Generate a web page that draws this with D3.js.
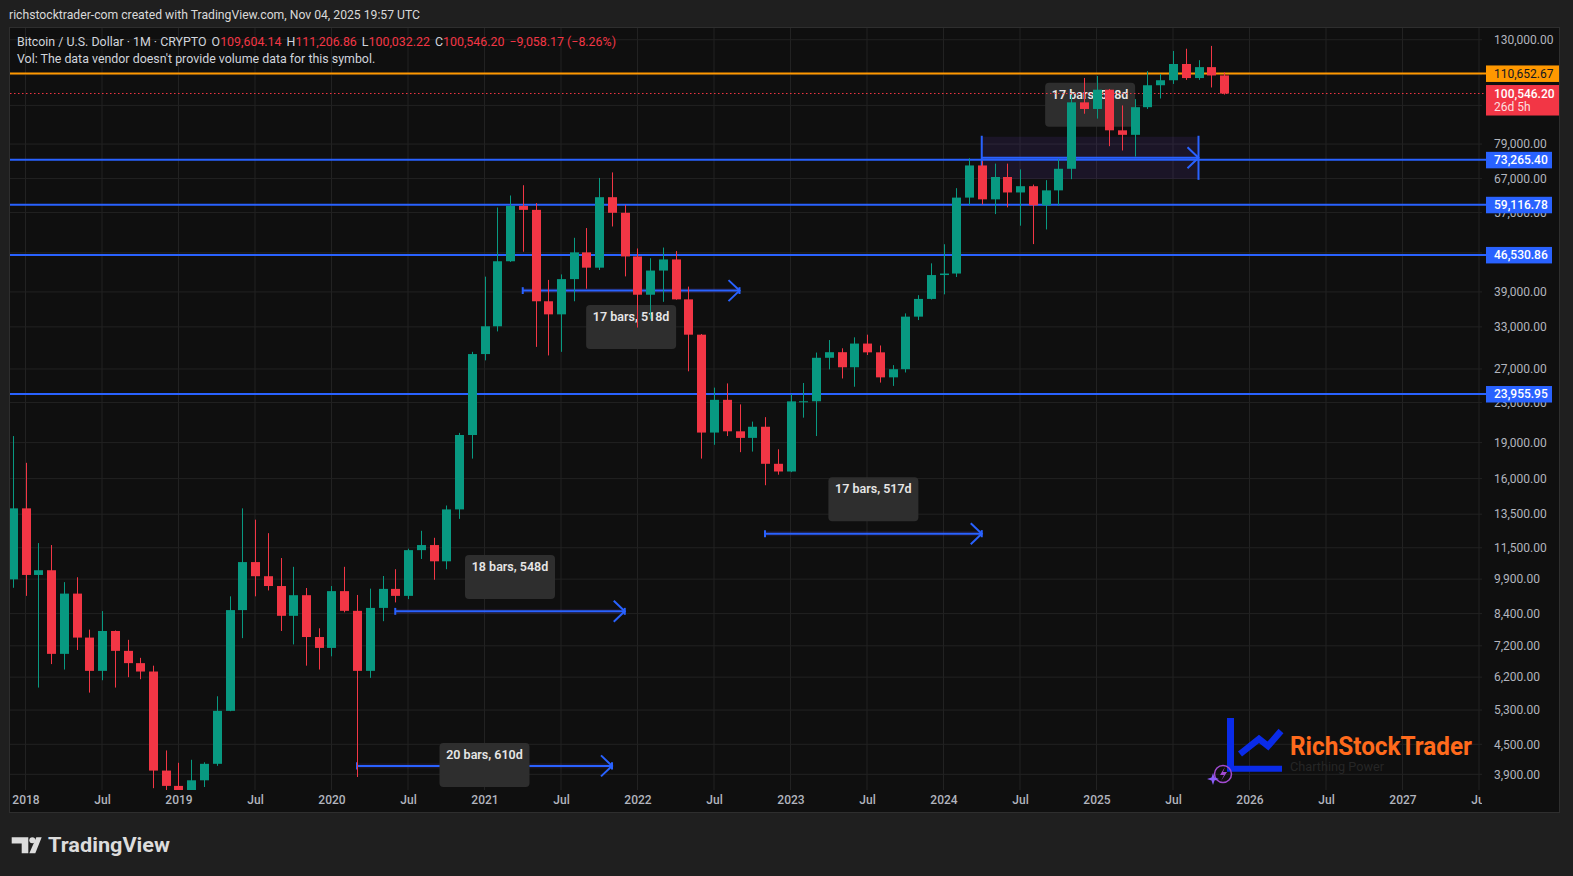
<!DOCTYPE html>
<html lang="en">
<head>
<meta charset="utf-8">
<title>BTCUSD 1M</title>
<script src="https://d3js.org/d3.v7.min.js"></script>
<style>
  body { margin: 0; background: #1f1f1f; }
  svg { display: block; font-family: Roboto, "Noto Sans", sans-serif; }
</style>
</head>
<body>
<svg id="chart" width="1573" height="876"></svg>
<script>
// monthly bars, Dec 2017 .. Nov 2025
var months = [
  "2017-12",
  "2018-01","2018-02","2018-03","2018-04","2018-05","2018-06","2018-07","2018-08","2018-09","2018-10","2018-11","2018-12",
  "2019-01","2019-02","2019-03","2019-04","2019-05","2019-06","2019-07","2019-08","2019-09","2019-10","2019-11","2019-12",
  "2020-01","2020-02","2020-03","2020-04","2020-05","2020-06","2020-07","2020-08","2020-09","2020-10","2020-11","2020-12",
  "2021-01","2021-02","2021-03","2021-04","2021-05","2021-06","2021-07","2021-08","2021-09","2021-10","2021-11","2021-12",
  "2022-01","2022-02","2022-03","2022-04","2022-05","2022-06","2022-07","2022-08","2022-09","2022-10","2022-11","2022-12",
  "2023-01","2023-02","2023-03","2023-04","2023-05","2023-06","2023-07","2023-08","2023-09","2023-10","2023-11","2023-12",
  "2024-01","2024-02","2024-03","2024-04","2024-05","2024-06","2024-07","2024-08","2024-09","2024-10","2024-11","2024-12",
  "2025-01","2025-02","2025-03","2025-04","2025-05","2025-06","2025-07","2025-08","2025-09","2025-10","2025-11"
];
var opens = [
  9890,
  13880,10100,10330,6930,9240,7490,6390,7730,7030,6630,6370,3970,
  3690,3440,3790,4100,5280,8540,10740,10040,9580,8310,9170,7510,
  7130,9350,8510,6390,8630,9450,9140,11370,11650,10780,13810,19700,
  28990,33100,45150,58800,57700,37300,35040,41460,47100,43790,61300,56900,
  46200,38480,43190,45540,37640,31800,19930,23300,20050,19430,20490,17170,
  16550,23130,23140,28480,29250,27220,30480,29230,25940,26970,34660,37720,
  42270,42580,61180,71330,60670,67500,62700,64600,58970,63330,70200,96400,
  93400,102400,84350,82550,94200,104600,107130,115760,108250,114050,109604.14
];
var highs = [
  19600,
  17250,11760,11650,9760,9990,7780,8500,7750,7410,6800,6550,4370,
  4120,4180,4130,5660,9120,13880,13150,12330,10950,10500,9490,7830,
  9580,10500,9180,9460,10050,10380,11450,12470,12060,14070,19900,29300,
  41950,58350,61800,64900,59600,41300,42400,50500,52900,67200,69000,59100,
  47990,45800,48200,47400,40000,31900,24700,25200,22800,21000,21450,18400,
  23950,25250,29200,31000,29800,31400,31800,30200,27500,35200,38400,44700,
  48970,64000,73800,72800,71950,71950,70000,65100,66500,73600,99800,108300,
  109350,102750,95000,97900,111900,110400,123200,124500,117900,126200,111206.86
];
var lows = [
  9500,
  9140,5900,6600,6430,7060,5760,6110,5900,6200,6140,3650,3130,
  3350,3380,3670,4060,5270,7470,9120,9380,7730,7250,6550,6430,
  6850,8450,3850,6180,8100,8860,9000,10900,9870,10380,13200,17600,
  28130,32300,45000,47250,30000,28800,29300,37300,39600,43300,53300,42000,
  32900,34300,37200,37580,26700,17600,18800,19600,18150,18200,15500,16300,
  16500,21400,19600,26950,25800,24800,28860,25300,24900,26550,34100,37600,
  38550,41880,59000,59200,56550,58400,53500,49000,52550,58900,66800,91300,
  89200,78200,76600,74400,93400,98200,105250,107300,107300,103500,100032.22
];
var closes = [
  13880,
  10100,10330,6930,9240,7490,6390,7730,7030,6630,6370,3970,3690,
  3440,3790,4100,5280,8540,10740,10040,9580,8310,9170,7510,7130,
  9350,8510,6390,8630,9450,9140,11370,11650,10780,13810,19700,28990,
  33100,45150,58800,57700,37300,35040,41460,47100,43790,61300,56900,46200,
  38480,43190,45540,37640,31800,19930,23300,20050,19430,20490,17170,16550,
  23130,23140,28480,29250,27220,30480,29230,25940,26970,34660,37720,42270,
  42580,61180,71330,60670,67500,62700,64600,58970,63330,70200,96400,93400,
  102400,84350,82550,94200,104600,107130,115760,108250,114050,109604.37,100546.20
];

// axes
var timeTickMonths = ["2018-01","2018-07","2019-01","2019-07","2020-01","2020-07","2021-01","2021-07",
  "2022-01","2022-07","2023-01","2023-07","2024-01","2024-07","2025-01","2025-07","2026-01","2026-07","2027-01","2027-07"];
var timeTickLabels = ["2018","Jul","2019","Jul","2020","Jul","2021","Jul","2022","Jul","2023","Jul",
  "2024","Jul","2025","Jul","2026","Jul","2027","Jul"];
var priceTicks = [130000,110000,95000,79000,67000,57000,47000,39000,33000,27000,23000,
  19000,16000,13500,11500,9900,8400,7200,6200,5300,4500,3900];
// ticks whose labels sit fully under a price box (grid line only)
var hiddenTickLabels = [110000, 95000, 47000];

// horizontal levels
var levelPrices = [110652.67, 73265.40, 59116.78, 46530.86, 23955.95];
var levelKinds = ["orange", "blue", "blue", "blue", "blue"];

// date ranges
var rangeStart = ["2020-03", "2020-06", "2021-04", "2022-11", "2024-04"];
var rangeEnd   = ["2021-11", "2021-12", "2022-09", "2024-04", "2025-09"];
var rangeHigh  = [4110, 8590, 39700, 12450, 81800];
var rangeLow   = [4010, 8390, 38800, 12150, 66900];
var rangeText  = ["20 bars, 610d", "18 bars, 548d", "17 bars, 518d", "17 bars, 517d", "17 bars, 518d"];
var rangeSide  = ["below", "above", "below", "above", "above"];

var lastPrice = 100546.20;
var countdown = "26d 5h";

// ---- layout
var W = 1573, H = 876;
var plot = { left: 10, right: 1482, top: 28, bottom: 790 };
var GREEN = "#089981", RED = "#f23645", BLUE = "#2962ff", ORANGE = "#ff9800";
var fmt = d3.format(",.2f");

function idx(m) {
  var p = m.split("-");
  return (+p[0] - 2018) * 12 + (+p[1] - 1);
}

var x = d3.scaleLinear().domain([0, 108]).range([25.5, 1402.5]);
var y = d3.scaleLog().domain([3900, 130000]).range([774.3, 39.7]);

var svg = d3.select("#chart");

svg.append("rect").attr("width", W).attr("height", H).attr("fill", "#1f1f1f");
svg.append("rect").attr("x", 9.5).attr("y", 27.5).attr("width", 1550).attr("height", 785)
  .attr("fill", "#0f0f0f").attr("stroke", "#2e2e2e");

var defs = svg.append("defs");
defs.append("clipPath").attr("id", "plotClip").append("rect")
  .attr("x", plot.left).attr("y", plot.top)
  .attr("width", plot.right - plot.left).attr("height", plot.bottom - plot.top);
defs.append("clipPath").attr("id", "timeClip").append("rect")
  .attr("x", plot.left).attr("y", 0)
  .attr("width", plot.right - plot.left).attr("height", 22);

// grid
var grid = svg.append("g").attr("clip-path", "url(#plotClip)");
grid.selectAll("line.v").data(timeTickMonths).enter().append("line")
  .attr("x1", function(d){ return x(idx(d)); }).attr("x2", function(d){ return x(idx(d)); })
  .attr("y1", plot.top).attr("y2", plot.bottom)
  .attr("stroke", "#222222");
grid.selectAll("line.h").data(priceTicks).enter().append("line")
  .attr("x1", plot.left).attr("x2", plot.right)
  .attr("y1", function(d){ return y(d); }).attr("y2", function(d){ return y(d); })
  .attr("stroke", "#222222");

// date ranges
var ranges = rangeStart.map(function(s, i) {
  return { x0: x(idx(s)), x1: x(idx(rangeEnd[i])), yt: y(rangeHigh[i]), yb: y(rangeLow[i]),
           text: rangeText[i], side: rangeSide[i] };
});
var rg = svg.append("g").attr("clip-path", "url(#plotClip)");
ranges.forEach(function(r) {
  var ym = (r.yt + r.yb) / 2;
  rg.append("rect").attr("x", r.x0).attr("y", r.yt).attr("width", r.x1 - r.x0).attr("height", r.yb - r.yt)
    .attr("fill", "rgba(103,58,183,0.15)");
  rg.append("line").attr("x1", r.x0).attr("x2", r.x0).attr("y1", r.yt - 1).attr("y2", r.yb + 1)
    .attr("stroke", BLUE).attr("stroke-width", 2);
  rg.append("line").attr("x1", r.x1).attr("x2", r.x1).attr("y1", r.yt - 1).attr("y2", r.yb + 1)
    .attr("stroke", BLUE).attr("stroke-width", 2);
  rg.append("line").attr("x1", r.x0).attr("x2", r.x1).attr("y1", ym).attr("y2", ym)
    .attr("stroke", BLUE).attr("stroke-width", 2);
  rg.append("polyline")
    .attr("points", [[r.x1 - 11, ym - 10.5], [r.x1, ym], [r.x1 - 11, ym + 10.5]].join(" "))
    .attr("fill", "none").attr("stroke", BLUE).attr("stroke-width", 2);

  var bw = 90, bh = 44, cx = (r.x0 + r.x1) / 2, by;
  if (r.side === "above") by = r.yt - 10 - bh;
  else by = r.yb + 12;
  if (by + bh > plot.bottom - 3) by = plot.bottom - 3 - bh;
  rg.append("rect").attr("x", cx - bw / 2).attr("y", by).attr("width", bw).attr("height", bh)
    .attr("rx", 4).attr("fill", "#2e2e2e");
  rg.append("text").attr("x", cx).attr("y", by + 16).attr("text-anchor", "middle")
    .attr("fill", "#e6e6e6").attr("font-size", 12.5).attr("font-weight", 600).text(r.text);
});

// horizontal levels + last price line
var lv = svg.append("g");
lv.selectAll("line").data(levelPrices).enter().append("line")
  .attr("x1", plot.left).attr("x2", 1486)
  .attr("y1", function(d){ return y(d); }).attr("y2", function(d){ return y(d); })
  .attr("stroke", function(d, i){ return levelKinds[i] === "orange" ? ORANGE : BLUE; })
  .attr("stroke-width", 2);
lv.append("line").attr("x1", plot.left).attr("x2", 1486)
  .attr("y1", y(lastPrice)).attr("y2", y(lastPrice))
  .attr("stroke", RED).attr("stroke-dasharray", "1.5 2.5");

// candles
var bars = months.map(function(m, i) {
  return { i: idx(m), o: opens[i], h: highs[i], l: lows[i], c: closes[i] };
});
var cg = svg.append("g").attr("clip-path", "url(#plotClip)");
var candle = cg.selectAll("g.c").data(bars).enter().append("g");
candle.append("line")
  .attr("x1", function(d){ return Math.round(x(d.i)) + 0.5; })
  .attr("x2", function(d){ return Math.round(x(d.i)) + 0.5; })
  .attr("y1", function(d){ return y(d.h); }).attr("y2", function(d){ return y(d.l); })
  .attr("stroke", function(d){ return d.c >= d.o ? GREEN : RED; });
candle.append("rect")
  .attr("x", function(d){ return Math.round(x(d.i)) - 4; })
  .attr("width", 9)
  .attr("y", function(d){ return y(Math.max(d.o, d.c)); })
  .attr("height", function(d){ return Math.max(1, Math.abs(y(d.o) - y(d.c))); })
  .attr("fill", function(d){ return d.c >= d.o ? GREEN : RED; });

// header + legend
svg.append("text").attr("x", 9).attr("y", 18.5).attr("fill", "#d9d9d9").attr("font-size", 12.2)
  .text("richstocktrader-com created with TradingView.com, Nov 04, 2025 19:57 UTC");
var last = bars[bars.length - 1];
var prevClose = bars[bars.length - 2].c;
var chg = last.c - prevClose;
var legend = svg.append("text").attr("x", 17).attr("y", 45.5).attr("font-size", 12.4).attr("fill", "#d1d4dc");
legend.append("tspan").text("Bitcoin / U.S. Dollar · 1M · CRYPTO");
[["O", last.o], ["H", last.h], ["L", last.l], ["C", last.c]].forEach(function(p) {
  legend.append("tspan").attr("dx", 5).text(p[0]);
  legend.append("tspan").attr("fill", RED).text(fmt(p[1]));
});
legend.append("tspan").attr("dx", 5).attr("fill", RED)
  .text(fmt(chg).replace("-", "\u2212") + " (" + d3.format(".2f")(chg / prevClose * 100).replace("-", "\u2212") + "%)");
svg.append("text").attr("x", 17).attr("y", 62.5).attr("font-size", 12.4).attr("fill", "#d1d4dc")
  .text("Vol: The data vendor doesn't provide volume data for this symbol.");

// price axis
var pa = svg.append("g");
pa.selectAll("text").data(priceTicks.filter(function(d){ return hiddenTickLabels.indexOf(d) < 0; }))
  .enter().append("text")
  .attr("x", 1494).attr("y", function(d){ return y(d); }).attr("dy", "0.35em")
  .attr("font-size", 12).attr("fill", "#b2b5be").text(function(d){ return fmt(d); });
levelPrices.forEach(function(p, i) {
  var orange = levelKinds[i] === "orange";
  var yy = y(p);
  pa.append("rect").attr("x", 1486).attr("y", yy - 8).attr("width", orange ? 73 : 66).attr("height", 16.5)
    .attr("fill", orange ? ORANGE : BLUE);
  pa.append("text").attr("x", 1494).attr("y", yy).attr("dy", "0.35em").attr("font-size", 12)
    .attr("font-weight", orange ? 400 : 500)
    .attr("fill", orange ? "#131722" : "#ffffff").text(fmt(p));
});
var yl = y(lastPrice);
pa.append("rect").attr("x", 1486).attr("y", yl - 8.5).attr("width", 73).attr("height", 30.5).attr("fill", RED);
pa.append("text").attr("x", 1494).attr("y", yl).attr("dy", "0.35em").attr("font-size", 12)
  .attr("font-weight", 500).attr("fill", "#ffffff").text(fmt(lastPrice));
pa.append("text").attr("x", 1494).attr("y", yl + 13.5).attr("dy", "0.35em").attr("font-size", 12)
  .attr("fill", "rgba(255,255,255,0.85)").text(countdown);

// time axis
var ta = svg.append("g").attr("clip-path", "url(#timeClip)")
  .attr("transform", "translate(0," + plot.bottom + ")")
  .call(d3.axisBottom(x)
    .tickValues(timeTickMonths.map(idx))
    .tickFormat(function(d, i){ return timeTickLabels[i]; })
    .tickSize(0).tickPadding(5));
ta.select(".domain").remove();
ta.selectAll("text").attr("fill", "#b2b5be").attr("font-size", 12).attr("font-weight", 500)
  .attr("font-family", "Roboto, 'Noto Sans', sans-serif");

// TradingView mark
var tv = svg.append("g").attr("fill", "#dcdcdc");
tv.append("path").attr("d", "M11.7,837.3H28.3V853.3H21.7V843.5H11.7Z");
tv.append("circle").attr("cx", 32.3).attr("cy", 840.3).attr("r", 3);
tv.append("path").attr("d", "M36.3,837.3H41.7L35.3,853.3H29.3Z");
tv.append("text").attr("x", 48).attr("y", 851.5).attr("font-size", 20).attr("font-weight", 700)
  .attr("textLength", 122).attr("lengthAdjust", "spacingAndGlyphs").text("TradingView");

// RichStockTrader watermark
var wm = svg.append("g");
wm.append("path").attr("d", "M1227,718H1234V765.7H1282V771.7H1227Z").attr("fill", "#0a2be8");
wm.append("polyline").attr("points", "1240,754 1259,739 1268,746 1281,731")
  .attr("fill", "none").attr("stroke", "#0a2be8").attr("stroke-width", 6.5);
wm.append("text").attr("x", 1290).attr("y", 755).attr("font-size", 25).attr("font-weight", 700)
  .attr("fill", "#ff6a1c").attr("textLength", 182).attr("lengthAdjust", "spacingAndGlyphs")
  .text("RichStockTrader");
wm.append("text").attr("x", 1290).attr("y", 771).attr("font-size", 13.5).attr("fill", "#262626")
  .attr("textLength", 94).attr("lengthAdjust", "spacingAndGlyphs").text("Charthing Power");
wm.append("circle").attr("cx", 1223).attr("cy", 774).attr("r", 8.5)
  .attr("fill", "none").attr("stroke", "#a24bd1").attr("stroke-width", 1.5);
wm.append("path").attr("d", "M1225,767L1220,775H1224L1221,781L1227,772H1223Z").attr("fill", "#a24bd1");
wm.append("path").attr("d", "M1213,773L1214.5,777.5L1219,779L1214.5,780.5L1213,785L1211.5,780.5L1207,779L1211.5,777.5Z")
  .attr("fill", "#8a5cf6");
</script>
</body>
</html>
